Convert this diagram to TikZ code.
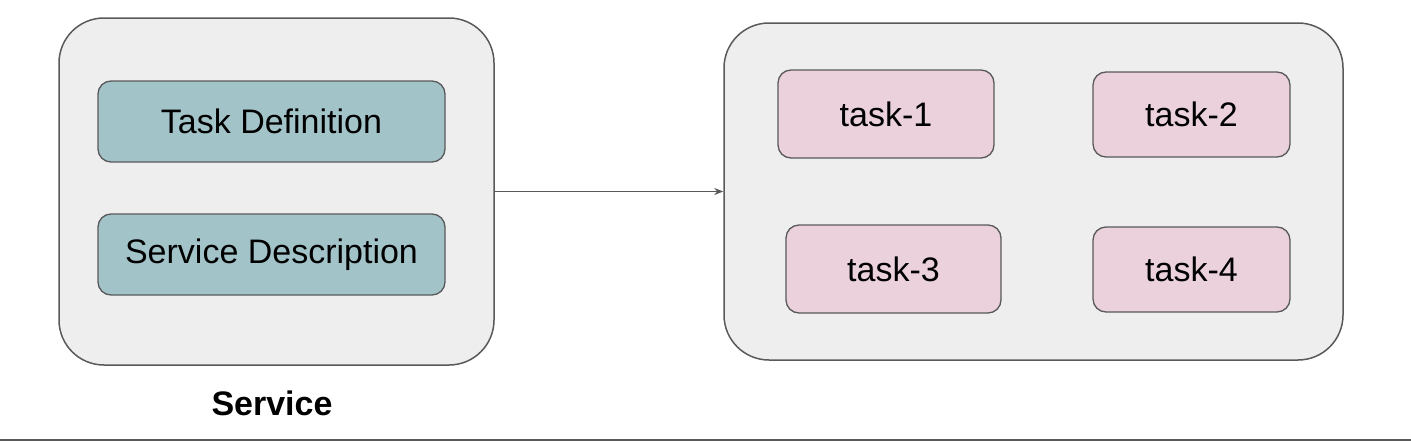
\documentclass[tikz,border=0pt]{standalone}
\usepackage{fontspec}
\setmainfont{Liberation Sans}
\usepackage{tikz}
\usetikzlibrary{arrows.meta}
\usetikzlibrary{positioning}
\definecolor{paleback}{RGB}{238, 238, 238}
\definecolor{edgegray}{RGB}{89, 89, 89}
\definecolor{tealpale}{RGB}{162, 196, 201}
\definecolor{pinkpale}{RGB}{234, 209, 220}
\tikzset{
    groupbox/.style={draw=edgegray, fill=paleback, line width=1.5pt, rounded corners=45pt, inner sep=0pt},
    partbox/.style={draw=edgegray, fill=tealpale, line width=1.3pt, rounded corners=13pt, inner sep=0pt,
        minimum width=347pt, minimum height=81pt, font=\fontsize{34}{41}\selectfont},
    taskbox/.style={draw=edgegray, fill=pinkpale, line width=1.3pt, rounded corners=13pt, inner sep=0pt,
        font=\fontsize{34}{41}\selectfont},
}
\begin{document}
\begin{tikzpicture}[x=1pt, y=-1pt]
    \useasboundingbox (0,0) rectangle (1411,442);
    % service group
    \node[groupbox, minimum width=435pt, minimum height=347pt] (service) at (276.5,191.5) {};
    \node[partbox] (taskdef) at (271.5,121.5) {Task Definition\hspace{10pt}};
    \node[partbox] (svcdesc) at (271.5,254.5) {Service Description\hspace{10pt}};
    \node[font=\fontsize{34}{41}\selectfont\bfseries] (svclabel) at (272,403) {Service};
    % running tasks
    \node[groupbox, minimum width=619pt, minimum height=337pt] (tasks) at (1033.5,191.5) {};
    \node[taskbox, minimum width=216pt, minimum height=88pt] (task1) at (886,114)    {task-1};
    \node[taskbox, minimum width=197pt, minimum height=85pt] (task2) at (1191.5,114.5) {task-2};
    \node[taskbox, minimum width=215pt, minimum height=88pt] (task3) at (893.5,269)  {task-3};
    \node[taskbox, minimum width=197pt, minimum height=85pt] (task4) at (1191.5,269.5) {task-4};
    \draw[edgegray, line width=1.5pt, -{Stealth[length=9pt, width=7pt]}] (service.east) -- (tasks.west);
    % rule at the bottom
    \coordinate (ruleL) at (0,440);
    \coordinate (ruleR) at (1411,440);
    \draw[edgegray, line width=2pt] (ruleL) -- (ruleR);
\end{tikzpicture}
\end{document}
